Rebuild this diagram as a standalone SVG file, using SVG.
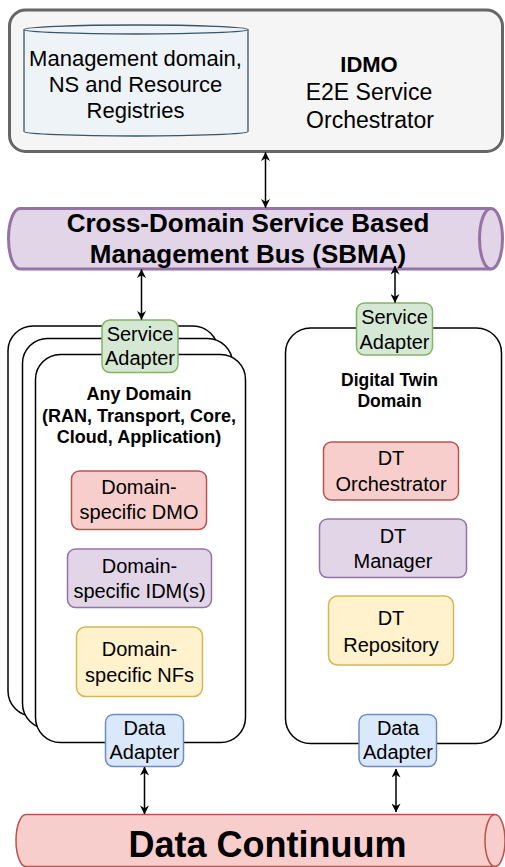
<svg xmlns="http://www.w3.org/2000/svg" width="505" height="867" viewBox="0 0 505 867">
  <style>
    text { font-family: "Liberation Sans", Arial, sans-serif; fill: #000; text-anchor: middle; }
    .t20 { font-size: 20px; }
    .t22 { font-size: 22px; }
    .b18 { font-size: 18px; font-weight: bold; }
    .domain { fill: #ffffff; stroke: #000; stroke-width: 1.5; }
    .green { fill: #d5e8d4; stroke: #82b366; stroke-width: 1.5; }
    .blue { fill: #dae8fc; stroke: #6c8ebf; stroke-width: 1.5; }
    .red { fill: #f8cecc; stroke: #b85450; stroke-width: 1.5; }
    .purple { fill: #e1d5e7; stroke: #9673a6; stroke-width: 1.5; }
    .yellow { fill: #fff2cc; stroke: #d6b656; stroke-width: 1.5; }
    .link { stroke: #000; stroke-width: 1.5; fill: none; marker-start: url(#arrow); marker-end: url(#arrow); }
  </style>
  <defs>
    <marker id="arrow" viewBox="0 0 10 10" refX="9.5" refY="5" markerWidth="6" markerHeight="6" markerUnits="strokeWidth" orient="auto-start-reverse">
      <path d="M0,0 L10,5 L0,10 L3,5 Z" fill="#000"/>
    </marker>
  </defs>

  <!-- Top-level orchestrator -->
  <g id="idmo">
    <rect x="9.5" y="10" width="493" height="141.5" rx="16" fill="#f5f5f5" stroke="#666666" stroke-width="3"/>
    <g id="registries">
      <path d="M24,29.5 A112,4.5 0 0 1 248,29.5 L248,131.5 A112,4.5 0 0 1 24,131.5 Z" fill="#eef3f7" stroke="#3d5466" stroke-width="1.3"/>
      <path d="M24,29.5 A112,4.5 0 0 0 248,29.5" fill="none" stroke="#3d5466" stroke-width="1.3"/>
      <text class="t22" x="135.5" y="65.5">Management domain,</text>
      <text class="t22" x="135.5" y="91.5">NS and Resource</text>
      <text class="t22" x="135.5" y="118">Registries</text>
    </g>
    <text x="369" y="71.5" style="font-size:22px;font-weight:bold">IDMO</text>
    <text x="369" y="100" style="font-size:23px">E2E Service</text>
    <text x="370" y="127.5" style="font-size:23px">Orchestrator</text>
  </g>

  <!-- Management bus -->
  <g id="sbma">
    <path d="M20,208.5 L491,208.5 A11.5,30.25 0 0 1 491,269 L20,269 A11.5,30.25 0 0 1 20,208.5 Z" fill="#e1d5e7" stroke="#9673a6" stroke-width="3"/>
    <path d="M491,208.5 A11.5,30.25 0 0 0 491,269" fill="none" stroke="#9673a6" stroke-width="3"/>
    <text x="248" y="232" style="font-size:26px;font-weight:bold">Cross-Domain Service Based</text>
    <text x="248" y="263" style="font-size:26px;font-weight:bold">Management Bus (SBMA)</text>
  </g>

  <!-- Stack of generic domains -->
  <g id="any-domain">
    <rect class="domain" x="8" y="326" width="210" height="390" rx="25"/>
    <rect class="domain" x="22.5" y="338.5" width="210" height="390" rx="25"/>
    <rect class="domain" x="35.5" y="354.5" width="210" height="388" rx="25"/>
    <text class="b18" x="139" y="400">Any Domain</text>
    <text class="b18" x="139" y="422">(RAN, Transport, Core,</text>
    <text class="b18" x="139" y="443">Cloud, Application)</text>
  </g>
  <g id="domain-dmo">
    <rect class="red" x="71.5" y="471" width="135" height="58.5" rx="8"/>
    <text class="t20" x="139" y="494">Domain-</text>
    <text class="t20" x="139" y="519">specific DMO</text>
  </g>
  <g id="domain-idm">
    <rect class="purple" x="67.5" y="549" width="144" height="58.5" rx="8"/>
    <text class="t20" x="139.5" y="572.5">Domain-</text>
    <text class="t20" x="139.5" y="598">specific IDM(s)</text>
  </g>
  <g id="domain-nfs">
    <rect class="yellow" x="76.5" y="627" width="126" height="69.5" rx="9"/>
    <text class="t20" x="139.5" y="656">Domain-</text>
    <text class="t20" x="139.5" y="681.5">specific NFs</text>
  </g>
  <g id="any-service-adapter">
    <rect class="green" x="102" y="320" width="76" height="52.5" rx="8"/>
    <text class="t20" x="140" y="341">Service</text>
    <text class="t20" x="140" y="365">Adapter</text>
  </g>
  <g id="any-data-adapter">
    <rect class="blue" x="105.5" y="714.5" width="78" height="52" rx="8"/>
    <text class="t20" x="144.5" y="735">Data</text>
    <text class="t20" x="144.5" y="759">Adapter</text>
  </g>

  <!-- Digital twin domain -->
  <g id="dt-domain">
    <rect class="domain" x="285.5" y="328" width="216" height="415.5" rx="25"/>
    <text x="389.5" y="386" style="font-size:17.5px;font-weight:bold">Digital Twin</text>
    <text x="389.5" y="407" style="font-size:17.5px;font-weight:bold">Domain</text>
  </g>
  <g id="dt-orchestrator">
    <rect class="red" x="323.5" y="442" width="135" height="58" rx="8"/>
    <text class="t20" x="391" y="465">DT</text>
    <text class="t20" x="391" y="490.5">Orchestrator</text>
  </g>
  <g id="dt-manager">
    <rect class="purple" x="319.5" y="519" width="147" height="58.5" rx="8"/>
    <text class="t20" x="393" y="542.5">DT</text>
    <text class="t20" x="393" y="568">Manager</text>
  </g>
  <g id="dt-repository">
    <rect class="yellow" x="328.5" y="596" width="125" height="69" rx="9"/>
    <text class="t20" x="391" y="625">DT</text>
    <text class="t20" x="391" y="651.5">Repository</text>
  </g>
  <g id="dt-service-adapter">
    <rect class="green" x="356.5" y="303" width="76" height="52" rx="8"/>
    <text class="t20" x="394.5" y="324">Service</text>
    <text class="t20" x="394.5" y="348.5">Adapter</text>
  </g>
  <g id="dt-data-adapter">
    <rect class="blue" x="359" y="714.5" width="77.5" height="52" rx="8"/>
    <text class="t20" x="398" y="735">Data</text>
    <text class="t20" x="398" y="759">Adapter</text>
  </g>

  <!-- Data continuum -->
  <g id="data-continuum">
    <path d="M26,814.5 L495,814.5 A10,26 0 0 1 495,866.5 L26,866.5 A10,26 0 0 1 26,814.5 Z" fill="#f8cecc" stroke="#b85450" stroke-width="1.5"/>
    <path d="M495,814.5 A10,26 0 0 0 495,866.5" fill="none" stroke="#b85450" stroke-width="1.5"/>
    <text x="267.5" y="857" style="font-size:36px;font-weight:bold">Data Continuum</text>
  </g>

  <!-- Connectors -->
  <g id="connectors">
    <line class="link" x1="265.5" y1="152.5" x2="265.5" y2="207.5"/>
    <line class="link" x1="141.5" y1="269.5" x2="141.5" y2="319.5"/>
    <line class="link" x1="395" y1="266" x2="395" y2="302.5"/>
    <line class="link" x1="144.5" y1="767" x2="144.5" y2="814"/>
    <line class="link" x1="396" y1="769" x2="396" y2="812"/>
  </g>
</svg>
